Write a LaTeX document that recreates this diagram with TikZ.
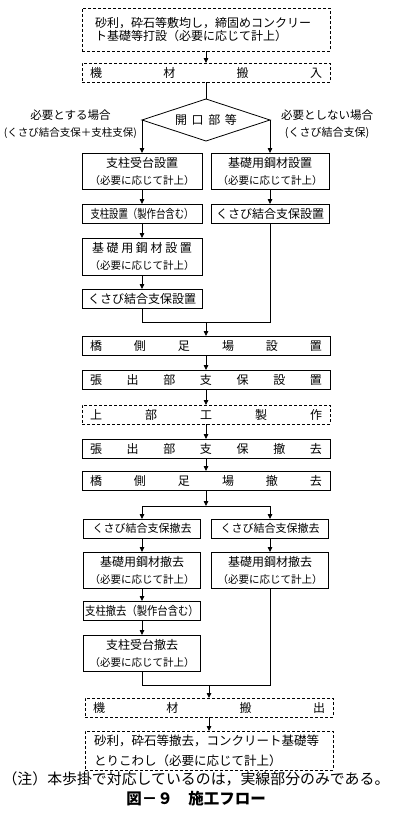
\documentclass[tikz,border=0pt]{standalone}
\usepackage{fontspec}
\usepackage{graphicx}
\setmainfont{Noto Sans CJK JP}
\usepackage{tikz}
\usetikzlibrary{arrows.meta, positioning, shapes.geometric}

\newcommand{\keijo}{{\fontsize{10.5}{13}\selectfont （必要に応じて計上）}}
\newcommand{\kintou}[1]{\makebox[232pt][s]{#1}}

\begin{document}
\begin{tikzpicture}[x=1pt, y=-1pt,
    box/.style={rectangle, draw, line width=0.8pt, minimum width=248pt,
        minimum height=19pt, inner sep=0pt, outer sep=0pt, align=center,
        font=\fontsize{12}{17}\selectfont},
    dbox/.style={box, dash pattern=on 3pt off 2pt},
    colbox/.style={box, minimum width=120pt},
    tallbox/.style={colbox, minimum height=36pt},
    dia/.style={diamond, draw, line width=0.8pt, aspect=3, inner sep=0pt, outer sep=0pt,
        minimum width=128pt, minimum height=42pt, font=\fontsize{12}{14}\selectfont},
    lbl/.style={align=center, inner sep=0pt, outer sep=0pt, font=\fontsize{11.5}{17}\selectfont},
    conn/.style={line width=0.8pt},
    arrow/.style={conn, -{Triangle[length=5pt, width=4.5pt]}}
]
\useasboundingbox (0,0) rectangle (394,819);

\node[dbox, minimum height=43pt, text width=222pt, align=left,
      font=\fontsize{12}{13.5}\selectfont] (junbi) at (206,29.5)
      {砂利，砕石等敷均し，締固めコンクリー\\ト基礎等打設（必要に応じて計上）};
\node[dbox, below=12pt of junbi] (hannyu) {\kintou{機\hfill 材\hfill 搬\hfill 入}};
\node[dia, below=17pt of hannyu] (kaiko) {\makebox[62pt][s]{開\hfill 口\hfill 部\hfill 等}};
\node[lbl, left=5pt of kaiko.west, yshift=-4.5pt] (yes)
     {必要とする場合\\{\fontsize{10.5}{13}\selectfont (くさび結合支保＋支柱支保)}};
\node[lbl, right=11pt of kaiko.east, yshift=-4.5pt] (no)
     {必要としない場合\\{\fontsize{11}{13}\selectfont (くさび結合支保)}};

% left: with posts / right: wedge only
\node[tallbox, below=33pt of kaiko.west] (ukedai) {支柱受台設置\\\keijo};
\node[tallbox, below=33pt of kaiko.east, minimum width=118pt] (kisoR) {基礎用鋼材設置\\\keijo};
\node[colbox, below=15pt of ukedai] (shichu) {\scalebox{0.78}[1]{支柱設置（製作台含む）}};
\node[colbox, below=15pt of kisoR, minimum width=118pt] (kusabiR) {くさび結合支保設置};
\node[tallbox, below=15pt of shichu, minimum height=37pt] (kisoL)
     {\makebox[100pt][s]{基\hfill 礎\hfill 用\hfill 鋼\hfill 材\hfill 設\hfill 置}\\\keijo};
\node[colbox, below=14pt of kisoL] (kusabiL) {くさび結合支保設置};

\coordinate[below=14pt of kusabiL] (gouL);
\coordinate (gouR) at (gouL -| kusabiR);
\coordinate (gouC) at (gouL -| hannyu);

% main column
\node[box, below=14pt of gouC] (ashibaS) {\kintou{橋\hfill 側\hfill 足\hfill 場\hfill 設\hfill 置}};
\node[box, below=15pt of ashibaS] (hariS) {\kintou{張\hfill 出\hfill 部\hfill 支\hfill 保\hfill 設\hfill 置}};
\node[dbox, below=16pt of hariS] (joubu) {\kintou{上\hfill 部\hfill 工\hfill 製\hfill 作}};
\node[box, below=15pt of joubu] (hariT) {\kintou{張\hfill 出\hfill 部\hfill 支\hfill 保\hfill 撤\hfill 去}};
\node[box, below=13pt of hariT] (ashibaT) {\kintou{橋\hfill 側\hfill 足\hfill 場\hfill 撤\hfill 去}};

\coordinate[below=16pt of ashibaT] (bunC);
\coordinate (bunL) at (bunC -| ukedai);
\coordinate (bunR) at (bunC -| kisoR);

% removal
\node[colbox, below=13pt of bunL, minimum width=117pt, font=\fontsize{11}{14}\selectfont] (kusabiTL) {くさび結合支保撤去};
\node[colbox, below=13pt of bunR, minimum width=117pt, font=\fontsize{11}{14}\selectfont] (kusabiTR) {くさび結合支保撤去};
\node[tallbox, below=14pt of kusabiTL, minimum width=117pt] (kisoTL) {基礎用鋼材撤去\\\keijo};
\node[tallbox, below=14pt of kusabiTR, minimum width=117pt] (kisoTR) {基礎用鋼材撤去\\\keijo};
\node[colbox, below=13pt of kisoTL, minimum width=117pt] (shichuT) {\scalebox{0.86}[1]{支柱撤去（製作台含む）}};
\node[tallbox, below=15pt of shichuT, minimum width=117pt] (ukedaiT) {支柱受台撤去\\\keijo};

\coordinate[below=14pt of ukedaiT] (gou2L);
\coordinate (gou2R) at (gou2L -| kisoTR);
\coordinate (gou2C) at (gou2L -| hannyu);

\node[dbox, below=13pt of gou2C, xshift=3pt] (hanshutsu) {\kintou{機\hfill 材\hfill 搬\hfill 出}};
\node[dbox, below=14pt of hanshutsu, minimum height=39pt, text width=230pt, align=left,
      font=\fontsize{12.5}{20}\selectfont] (tekkyo)
      {砂利，砕石等撤去，コンクリート基礎等\\とりこわし（必要に応じて計上）};

\node[inner sep=0pt, font=\fontsize{14.9}{16}\selectfont] (chu) at (196,779)
      {（注）本歩掛で対応しているのは，実線部分のみである。};
\node[inner sep=0pt, font=\bfseries\fontsize{15.5}{17}\selectfont] (zu) at (196,799)
      {図－９　施工フロー};

% connectors
\draw[arrow] (junbi) -- (hannyu);
\draw[conn] (hannyu) -- (kaiko);
\draw[arrow] (kaiko.west) -- (ukedai);
\draw[arrow] (kaiko.east) -- (kisoR);
\draw[arrow] (ukedai) -- (shichu);
\draw[arrow] (shichu) -- (kisoL);
\draw[arrow] (kisoL) -- (kusabiL);
\draw[arrow] (kisoR) -- (kusabiR);
\draw[conn] (kusabiL) -- (gouL) -- (gouR) -- (kusabiR);
\draw[arrow] (gouC) -- (ashibaS);
\draw[arrow] (ashibaS) -- (hariS);
\draw[arrow] (hariS) -- (joubu);
\draw[arrow] (joubu) -- (hariT);
\draw[arrow] (hariT) -- (ashibaT);
\draw[arrow] (ashibaT) -- (bunC);
\draw[conn] (bunL) -- (bunR);
\draw[arrow] (bunL) -- (kusabiTL);
\draw[arrow] (bunR) -- (kusabiTR);
\draw[arrow] (kusabiTL) -- (kisoTL);
\draw[arrow] (kusabiTR) -- (kisoTR);
\draw[arrow] (kisoTL) -- (shichuT);
\draw[arrow] (shichuT) -- (ukedaiT);
\draw[conn] (ukedaiT) -- (gou2L) -- (gou2R) -- (kisoTR);
\draw[arrow] (gou2C -| hanshutsu) -- (hanshutsu);
\draw[arrow] (hanshutsu) -- (tekkyo);
\end{tikzpicture}
\end{document}
